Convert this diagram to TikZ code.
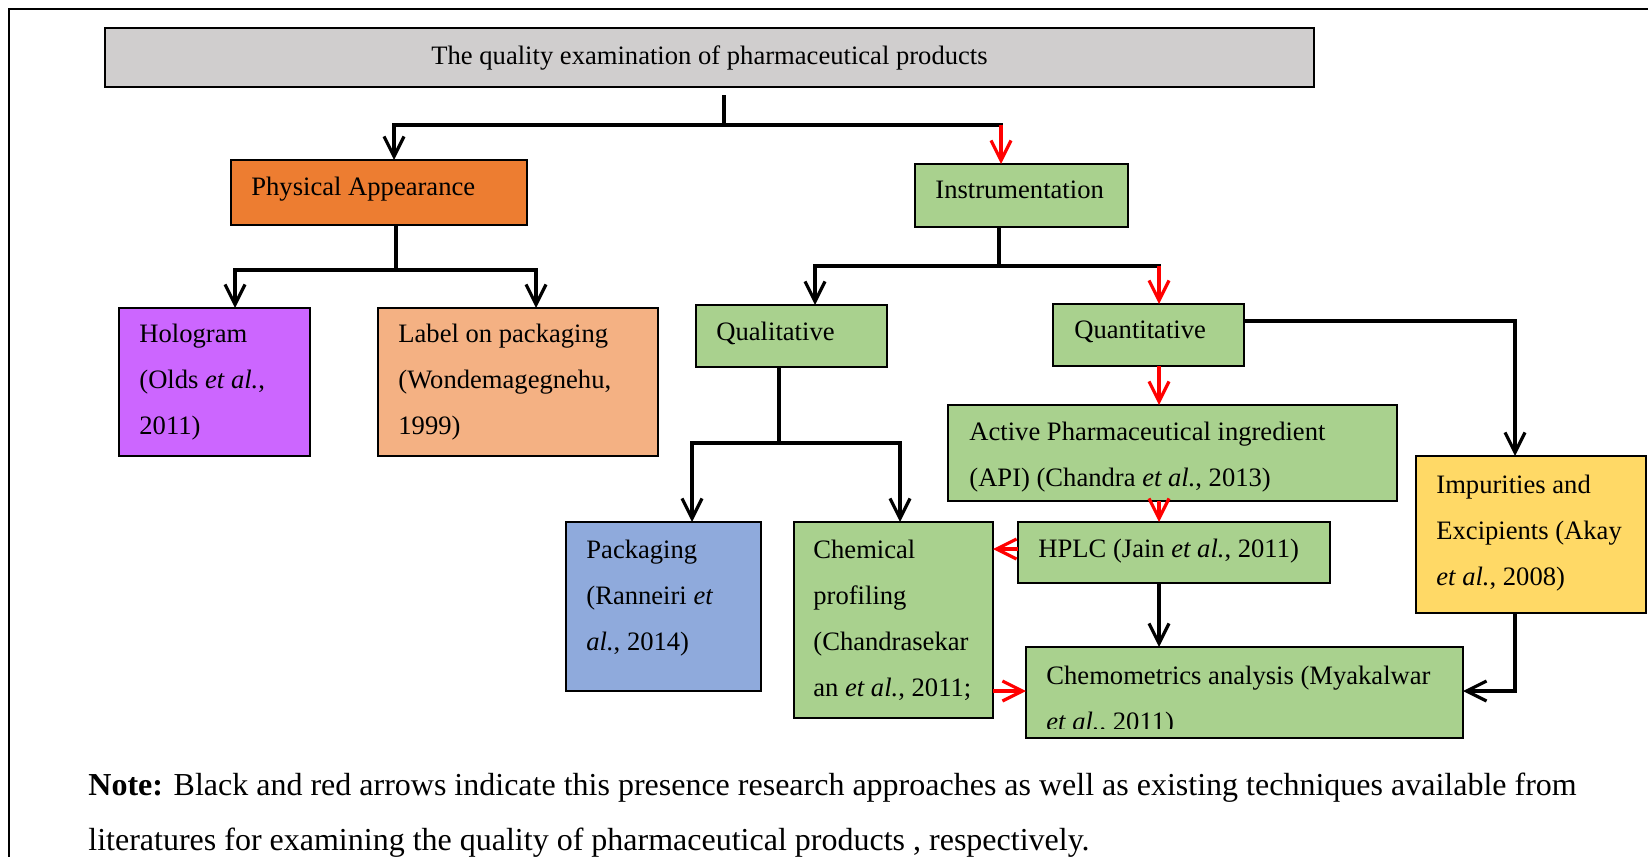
\documentclass[tikz,border=0pt]{standalone}
\usepackage{fontspec}
\setmainfont{Liberation Serif}
\usetikzlibrary{arrows.meta}
\definecolor{tgray}{HTML}{D0CECE}
\definecolor{porange}{HTML}{ED7D31}
\definecolor{hpurple}{HTML}{CC66FF}
\definecolor{lpeach}{HTML}{F4B183}
\definecolor{bgreen}{HTML}{A9D18E}
\definecolor{pblue}{HTML}{8FAADC}
\definecolor{iyellow}{HTML}{FFD966}
\definecolor{arred}{HTML}{FF0000}
\newcommand\bxfont{\fontsize{13.3pt}{23pt}\selectfont}
\newcommand\ntfont{\fontsize{16pt}{27.5pt}\selectfont}
\begin{document}
\begin{tikzpicture}[x=0.5pt,y=-0.5pt,
  box/.style={draw=black, line width=1pt, anchor=north west, inner sep=0pt, outer sep=0pt},
  tx/.style={anchor=base west, inner sep=0pt, font=\bxfont},
  blk/.style={draw=black, line width=1.6pt},
  rln/.style={draw=arred, line width=1.6pt},
  arr/.style={-{Straight Barb[length=10pt,width=10pt]}},
]
\useasboundingbox (0,0) rectangle (1648,857);
\fill[white] (0,0) rectangle (1648,857);
\draw[line width=1.2pt] (1648,9) -- (9,9) -- (9,857);

% boxes
\node[box, fill=tgray, minimum width=604.5pt, minimum height=29.5pt] (title) at (105,28) {};
\node[box, fill=porange, minimum width=148pt, minimum height=32.5pt] (pa) at (231,160) {};
\node[box, fill=bgreen, minimum width=106.5pt, minimum height=31.5pt] (instr) at (915,164) {};
\node[box, fill=hpurple, minimum width=95.5pt, minimum height=74pt] (holo) at (119,308) {};
\node[box, fill=lpeach, minimum width=140pt, minimum height=74pt] (label) at (378,308) {};
\node[box, fill=bgreen, minimum width=95.5pt, minimum height=31pt] (qual) at (696,305) {};
\node[box, fill=bgreen, minimum width=95.5pt, minimum height=31pt] (quant) at (1053,304) {};
\node[box, fill=bgreen, minimum width=224.5pt, minimum height=48pt] (api) at (948,405) {};
\node[box, fill=iyellow, minimum width=115pt, minimum height=78.5pt] (imp) at (1416,456) {};
\node[box, fill=bgreen, minimum width=156pt, minimum height=30.5pt] (hplc) at (1018,522) {};
\node[box, fill=bgreen, minimum width=99.5pt, minimum height=98pt] (chem) at (794,522) {};
\node[box, fill=pblue, minimum width=97.5pt, minimum height=84.5pt] (pack) at (566,522) {};
\node[box, fill=bgreen, minimum width=218.5pt, minimum height=45.5pt] (chemo) at (1026,647) {};

% texts
\node[inner sep=0pt, anchor=base, font=\bxfont] (titleT) at (709.5,64) {The quality examination of pharmaceutical products};
\node[tx] (paT) at (251,195) {Physical Appearance};
\node[tx] (instrT) at (935,198) {Instrumentation};
\node[tx] (holoT) at (139,342) {\parbox[t]{200pt}{Hologram\\(Olds \textit{et al.},\\2011)}};
\node[tx] (labelT) at (398,342) {\parbox[t]{200pt}{Label on packaging\\(Wondemagegnehu,\\1999)}};
\node[tx] (qualT) at (716,340) {Qualitative};
\node[tx] (quantT) at (1074,338) {Quantitative};
\node[tx] (apiT) at (969,440) {\parbox[t]{300pt}{Active Pharmaceutical ingredient\\(API) (Chandra \textit{et al.}, 2013)}};
\node[tx] (impT) at (1436,493) {\parbox[t]{200pt}{Impurities and\\Excipients (Akay\\\textit{et al.}, 2008)}};
\node[tx] (hplcT) at (1038,557) {HPLC (Jain \textit{et al.}, 2011)};
\node[tx] (chemT) at (813,558) {\parbox[t]{200pt}{Chemical\\profiling\\(Chandrasekar\\an \textit{et al.}, 2011;}};
\node[tx] (packT) at (586,558) {\parbox[t]{200pt}{Packaging\\(Ranneiri \textit{et}\\\textit{al.}, 2014)}};
\begin{scope}
\clip (1027,648) rectangle (1462,728);
\node[tx] (chemoT) at (1046,684) {\parbox[t]{300pt}{Chemometrics analysis (Myakalwar\\\textit{et al.}, 2011)}};
\end{scope}

% junction coordinates
\coordinate (j0) at (724,95);
\coordinate (j1) at (724,125);
\coordinate (xPA) at (394,0);
\coordinate (xIN) at (1001,0);
\coordinate (j2) at (396,270);
\coordinate (xHO) at (235,0);
\coordinate (xLA) at (536,0);
\coordinate (j3) at (999,266);
\coordinate (xQL) at (815,0);
\coordinate (xQN) at (1159,0);
\coordinate (j4) at (779,443);
\coordinate (xPK) at (692,0);
\coordinate (xCH) at (900,0);
\coordinate (xIM) at (1515,0);
\coordinate (yQI) at (0,321);
\coordinate (yHC) at (0,549);
\coordinate (yCC) at (0,691);

% title connectors
\draw[blk] (j0) -- (j1);
\draw[blk,arr] (j1) -| (xPA |- pa.north);
\draw[blk,line cap=rect] (j1) -- (j1 -| xIN);
\draw[rln,arr] (j1 -| xIN) -- (xIN |- instr.north);

% physical appearance
\draw[blk] (pa.south -| j2) -- (j2);
\draw[blk,arr] (j2) -| (xHO |- holo.north);
\draw[blk,arr] (j2) -| (xLA |- label.north);

% instrumentation
\draw[blk] (instr.south -| j3) -- (j3);
\draw[blk,arr] (j3) -| (xQL |- qual.north);
\draw[blk,line cap=rect] (j3) -- (j3 -| xQN);
\draw[rln,arr] (j3 -| xQN) -- (xQN |- quant.north);

% qualitative
\draw[blk] (qual.south -| j4) -- (j4);
\draw[blk,arr] (j4) -| (xPK |- pack.north);
\draw[blk,arr] (j4) -| (xCH |- chem.north);

% quantitative
\draw[rln,arr] (xQN |- quant.south) -- (xQN |- api.north);
\draw[blk,arr] (quant.east |- yQI) -| (xIM |- imp.north);
\draw[rln,arr] (xQN |- api.south) -- (xQN |- hplc.north);
\draw[rln,arr] (hplc.west |- yHC) -- (chem.east |- yHC);
\draw[blk,arr] (xQN |- hplc.south) -- (xQN |- chemo.north);
\draw[rln,arr] (chem.east |- yCC) -- (chemo.west |- yCC);
\draw[blk,arr] (xIM |- imp.south) |- (chemo.east |- yCC);

% note
\node[inner sep=0pt, anchor=base west, font=\ntfont] (note) at (88,795) {\parbox[t]{800pt}{\textbf{Note:} Black and red arrows indicate this presence research approaches as well as existing techniques available from\\literatures for examining the quality of pharmaceutical products , respectively.}};
\end{tikzpicture}
\end{document}
